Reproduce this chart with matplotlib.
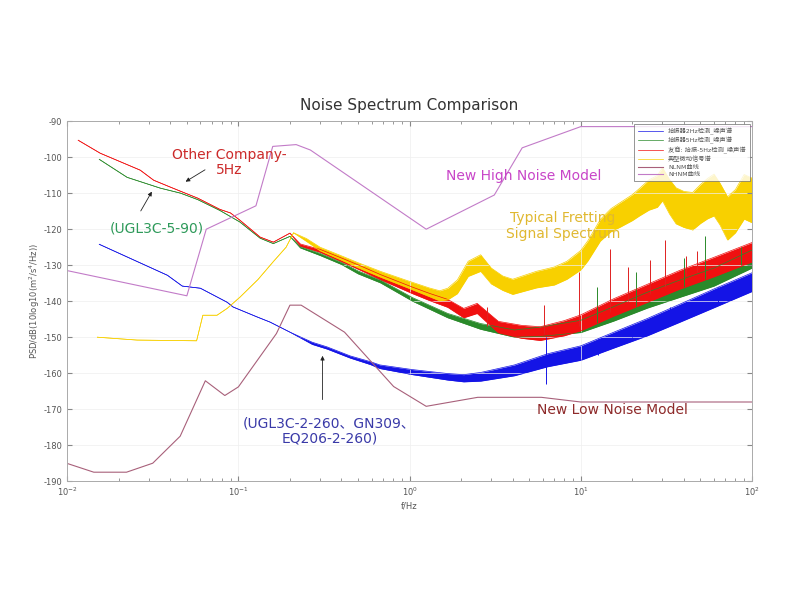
import numpy as np
import matplotlib.pyplot as plt

plt.rcParams['font.family'] = ['DejaVu Sans', 'Noto Sans CJK SC']
plt.rcParams['axes.unicode_minus'] = False

# sensor noise spectra (freq in Hz, PSD in dB), spread = half width of the noisy band
blue_f = [0.0154, 0.0385, 0.047, 0.06, 0.086, 0.093, 0.129, 0.153, 0.2, 0.27, 0.33, 0.45, 0.59, 0.67,
          1.04, 1.67, 2.07, 2.6, 4.1, 6.4, 10, 15.6, 24.5, 38, 60, 100]
blue_db = [-124.2, -132.8, -135.8, -136.4, -140.3, -141.6, -144.4, -145.8, -148.6, -151.7, -153.0, -155.5,
           -157.2, -158.2, -159.7, -161.0, -161.4, -161.0, -159.2, -156.4, -154.4, -150.8, -147.2, -143.3,
           -139.2, -134.7]
blue_spread = [0, 0, 0, 0, 0, 0, 0, 0, 0, 0.3, 0.3, 0.3, 0.4, 0.5, 0.7, 0.9, 1.0, 1.2, 1.5, 1.8, 2.0,
               2.2, 2.4, 2.5, 2.6, 2.6]

green_f = [0.0154, 0.0224, 0.035, 0.046, 0.058, 0.078, 0.102, 0.134, 0.16, 0.2, 0.23, 0.3, 0.4, 0.5,
           0.675, 1.04, 1.67, 2.6, 4.1, 5.8, 10, 15.6, 24.5, 38, 60, 100]
green_db = [-100.6, -105.6, -108.6, -110.0, -111.8, -114.8, -118.0, -122.5, -124.0, -122.0, -125.0,
            -127.0, -129.5, -132.0, -134.5, -139.5, -144.0, -147.0, -149.0, -148.5, -147.0, -143.5,
            -139.7, -136.5, -133.3, -128.3]
green_spread = [0, 0, 0, 0, 0, 0, 0, 0, 0, 0, 0.2, 0.3, 0.3, 0.4, 0.4, 0.5, 0.6, 0.8, 1.0, 1.3, 1.7,
                2.0, 2.2, 2.4, 2.5, 2.5]

red_f = [0.0116, 0.0156, 0.0267, 0.032, 0.04, 0.049, 0.058, 0.078, 0.09, 0.102, 0.134, 0.16, 0.2, 0.23,
         0.3, 0.4, 0.5, 0.675, 1.04, 1.32, 1.67, 2.07, 2.48, 3.3, 4.5, 5.8, 8, 10, 15.6, 24.5, 38, 60, 100]
red_db = [-95.3, -98.9, -103.6, -106.4, -108.3, -110.0, -111.4, -114.5, -115.5, -117.5, -122.2, -123.6,
          -121.1, -124.4, -126.0, -128.5, -130.5, -133.3, -137.0, -138.9, -140.6, -143.3, -142.0, -147.2,
          -148.5, -149.0, -147.5, -146.0, -141.7, -137.8, -134.0, -130.5, -126.4]
red_spread = [0, 0, 0, 0, 0, 0, 0, 0, 0, 0, 0, 0, 0, 0.3, 0.4, 0.5, 0.6, 0.7, 0.9, 1.0, 1.1, 1.3, 1.4,
              1.6, 1.8, 1.9, 2.1, 2.2, 2.4, 2.5, 2.6, 2.7, 2.7]

yellow_f = [0.015, 0.0256, 0.057, 0.062, 0.075, 0.086, 0.102, 0.13, 0.16, 0.19, 0.21, 0.25, 0.3, 0.4,
            0.5, 0.675, 1.0, 1.3, 1.5, 1.67, 1.9, 2.2, 2.6, 3.0, 3.5, 4.0, 5.5, 7.0, 8.3, 10, 11, 13, 15,
            17, 20, 22, 25, 28, 30, 33, 36, 40, 45, 50, 55, 60, 65, 72, 80, 90, 100]
yellow_db = [-150.0, -150.8, -151.0, -143.9, -143.9, -142.0, -138.9, -134.0, -129.0, -125.0, -121.0,
             -123.0, -125.5, -128.0, -130.0, -132.5, -135.5, -137.5, -138.5, -138.0, -136.0, -131.0,
             -129.4, -133.0, -135.0, -136.0, -134.0, -133.0, -131.4, -128.6, -126.0, -120.3, -117.5,
             -116.0, -114.0, -112.5, -110.5, -109.5, -107.5, -111.0, -113.5, -114.5, -115.0, -113.0,
             -111.5, -110.5, -113.0, -117.0, -115.0, -111.0, -112.0]
yellow_spread = [0, 0, 0, 0, 0, 0, 0, 0, 0, 0, 0, 0.4, 0.5, 0.6, 0.7, 0.8, 1.0, 1.2, 1.4, 1.6, 1.9,
                 2.1, 2.3, 2.2, 2.0, 2.1, 2.3, 2.5, 2.5, 2.7, 2.8, 3.0, 3.2, 3.4, 3.6, 3.8, 4.2, 4.4,
                 4.6, 4.8, 5.0, 5.0, 5.2, 5.4, 5.6, 5.8, 5.8, 6.0, 6.0, 6.2, 6.2]

# narrow spikes sticking out of the bands
red_spk_f = [2.85, 6.1, 9.8, 14.9, 18.9, 25.5, 31, 41, 48]
red_spk_bot = [-147, -149, -147, -143, -140, -138, -136, -133, -132]
red_spk_top = [-141.5, -141.0, -132.0, -125.5, -130.5, -128.6, -123.0, -127.5, -126.0]
green_spk_f = [12.5, 21, 40, 53, 86]
green_spk_bot = [-147, -142, -137, -134, -130]
green_spk_top = [-136, -132, -128, -122, -125]
blue_spk_f = [6.3, 12.6, 20, 33, 63]
blue_spk_bot = [-163, -155, -150, -146, -141]
blue_spk_top = [-150, -150.5, -147, -141.5, -136]

# Peterson noise models
nlnm_f = [0.0099, 0.0143, 0.0222, 0.0316, 0.0457, 0.0641, 0.0833, 0.1, 0.1667, 0.2, 0.2326, 0.4167,
          0.8065, 1.25, 2.5, 5.88, 10, 100]
nlnm_db = [-185.0, -187.5, -187.5, -185.0, -177.5, -162.1, -166.2, -163.8, -149.0, -141.1, -141.1,
           -148.6, -163.7, -169.2, -166.7, -166.7, -168.0, -168.0]
nhnm_f = [0.00282, 0.05, 0.0649, 0.1266, 0.1587, 0.2174, 0.2632, 1.25, 3.125, 4.545, 10, 100]
nhnm_db = [-126.0, -138.5, -120.0, -113.5, -97.0, -96.5, -98.0, -120.0, -110.5, -97.4, -91.5, -91.5]

labels = ['拾振器2Hz检测_噪声谱', '拾振器5Hz检测_噪声谱', '友商: 拾振-5Hz检测_噪声谱',
          '典型微动信号谱', 'NLNM曲线', 'NHNM曲线']


def band(ax, f, db, spread, color, label):
    f = np.array(f)
    lo = np.array(db) - np.array(spread)
    hi = np.array(db) + np.array(spread)
    ax.fill_between(f, lo, hi, color=color, lw=0)
    ax.plot(f, lo, color=color, lw=0.5)
    ax.plot(f, hi, color=color, lw=0.5, label=label)


fig = plt.figure(figsize=(8, 6), dpi=100)
ax = fig.add_axes([0.084, 0.198, 0.856, 0.6])

band(ax, blue_f, blue_db, blue_spread, '#1414e6', labels[0])
ax.vlines(blue_spk_f, blue_spk_bot, blue_spk_top, color='#1414e6', lw=0.7)
band(ax, green_f, green_db, green_spread, '#2a8a2a', labels[1])
ax.vlines(green_spk_f, green_spk_bot, green_spk_top, color='#2a8a2a', lw=0.7)
band(ax, red_f, red_db, red_spread, '#f01010', labels[2])
ax.vlines(red_spk_f, red_spk_bot, red_spk_top, color='#e02020', lw=0.7)
band(ax, yellow_f, yellow_db, yellow_spread, '#f8d000', labels[3])
ax.plot(nlnm_f, nlnm_db, color='#a8607a', lw=0.8, label=labels[4])
ax.plot(nhnm_f, nhnm_db, color='#c27bc8', lw=0.8, label=labels[5])

ax.set_xscale('log')
ax.set_xlim(0.01, 100)
ax.set_ylim(-190, -90)
ax.set_yticks(np.arange(-190, -89, 10))
ax.grid(True, which='major', color='#efefef', lw=0.5)
ax.tick_params(which='both', direction='in', top=True, right=True, labelsize=6,
               colors='#888', labelcolor='#555')
for s in ax.spines.values():
    s.set_color('#aaa')
    s.set_linewidth(0.7)

ax.set_title('Noise Spectrum Comparison', fontsize=11, color='#333', pad=8)
ax.set_xlabel('f/Hz', fontsize=6, color='#555', labelpad=2)
ax.set_ylabel('PSD/dB(10log10(m$^2$/s$^4$/Hz))', fontsize=6, color='#555', labelpad=1)

leg = ax.legend(loc='upper right', fontsize=4.5, fancybox=False, edgecolor='#666',
                handlelength=4, borderpad=0.6, labelspacing=0.35, borderaxespad=0.4)
leg.get_frame().set_linewidth(0.6)
for t in leg.get_texts():
    t.set_color('#555')

ax.text(0.2365, 0.886, 'Other Company-\n5Hz', transform=ax.transAxes, ha='center', va='center',
        fontsize=10, color='#cc2a2a', linespacing=1.05)
ax.text(0.131, 0.703, '(UGL3C-5-90)', transform=ax.transAxes, ha='center', va='center',
        fontsize=10, color='#2e9a5a')
ax.text(0.666, 0.847, 'New High Noise Model', transform=ax.transAxes, ha='center', va='center',
        fontsize=10, color='#c845c8')
ax.text(0.724, 0.708, 'Typical Fretting\nSignal Spectrum', transform=ax.transAxes, ha='center',
        va='center', fontsize=10, color='#e0b830', linespacing=1.15)
ax.text(0.7956, 0.197, 'New Low Noise Model', transform=ax.transAxes, ha='center', va='center',
        fontsize=10, color='#8e2a2a')
ax.text(0.383, 0.139, '(UGL3C-2-260、GN309、\nEQ206-2-260)', transform=ax.transAxes, ha='center',
        va='center', fontsize=10, color='#3a3aa8', linespacing=1.1)

arrow = dict(arrowstyle='-|>', color='#222', lw=0.6, mutation_scale=6)
ax.annotate('', xy=(0.0476, -107.2), xytext=(0.0659, -103.1), arrowprops=arrow)
ax.annotate('', xy=(0.0318, -108.9), xytext=(0.0264, -115.6), arrowprops=arrow)
ax.annotate('', xy=(0.31, -154.4), xytext=(0.31, -168.1), arrowprops=arrow)

fig.savefig('out.png', dpi=100)
